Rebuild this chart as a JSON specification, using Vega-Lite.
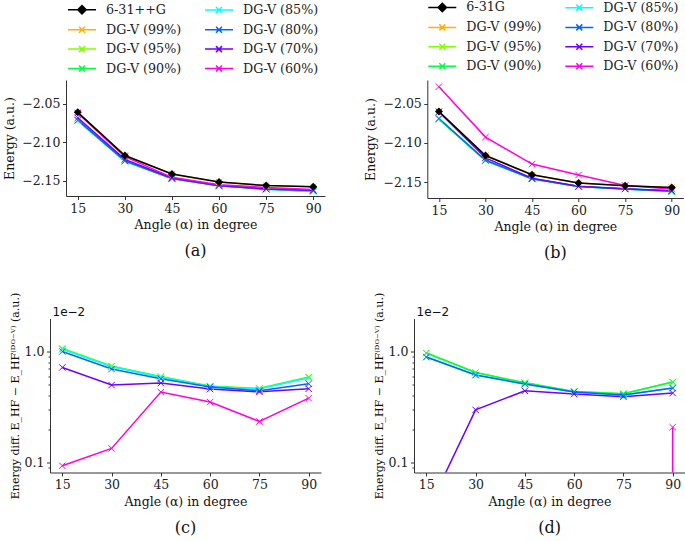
{
  "$schema": "https://vega.github.io/schema/vega-lite/v6.json",
  "padding": {"left": 3, "top": 0, "right": 0, "bottom": 0},
  "data": {"values": [
    {"p":"a","s":"DG-V (99%)","angle":15,"v":-2.061},{"p":"a","s":"DG-V (99%)","angle":30,"v":-2.117},{"p":"a","s":"DG-V (99%)","angle":45,"v":-2.141},{"p":"a","s":"DG-V (99%)","angle":60,"v":-2.1513},{"p":"a","s":"DG-V (99%)","angle":75,"v":-2.156},{"p":"a","s":"DG-V (99%)","angle":90,"v":-2.1574},
    {"p":"a","s":"DG-V (95%)","angle":15,"v":-2.0717},{"p":"a","s":"DG-V (95%)","angle":30,"v":-2.1244},{"p":"a","s":"DG-V (95%)","angle":45,"v":-2.14695},{"p":"a","s":"DG-V (95%)","angle":60,"v":-2.15618},{"p":"a","s":"DG-V (95%)","angle":75,"v":-2.16066},{"p":"a","s":"DG-V (95%)","angle":90,"v":-2.1633},
    {"p":"a","s":"DG-V (90%)","angle":15,"v":-2.0715},{"p":"a","s":"DG-V (90%)","angle":30,"v":-2.12433},{"p":"a","s":"DG-V (90%)","angle":45,"v":-2.14688},{"p":"a","s":"DG-V (90%)","angle":60,"v":-2.15614},{"p":"a","s":"DG-V (90%)","angle":75,"v":-2.16061},{"p":"a","s":"DG-V (90%)","angle":90,"v":-2.16323},
    {"p":"a","s":"DG-V (85%)","angle":15,"v":-2.0715},{"p":"a","s":"DG-V (85%)","angle":30,"v":-2.12433},{"p":"a","s":"DG-V (85%)","angle":45,"v":-2.14688},{"p":"a","s":"DG-V (85%)","angle":60,"v":-2.15614},{"p":"a","s":"DG-V (85%)","angle":75,"v":-2.16061},{"p":"a","s":"DG-V (85%)","angle":90,"v":-2.1632},
    {"p":"a","s":"DG-V (80%)","angle":15,"v":-2.071},{"p":"a","s":"DG-V (80%)","angle":30,"v":-2.12394},{"p":"a","s":"DG-V (80%)","angle":45,"v":-2.14667},{"p":"a","s":"DG-V (80%)","angle":60,"v":-2.15608},{"p":"a","s":"DG-V (80%)","angle":75,"v":-2.16043},{"p":"a","s":"DG-V (80%)","angle":90,"v":-2.16252},
    {"p":"a","s":"DG-V (70%)","angle":15,"v":-2.06818},{"p":"a","s":"DG-V (70%)","angle":30,"v":-2.12198},{"p":"a","s":"DG-V (70%)","angle":45,"v":-2.14619},{"p":"a","s":"DG-V (70%)","angle":60,"v":-2.15588},{"p":"a","s":"DG-V (70%)","angle":75,"v":-2.16033},{"p":"a","s":"DG-V (70%)","angle":90,"v":-2.16201},
    {"p":"a","s":"DG-V (60%)","angle":15,"v":-2.06193},{"p":"a","s":"DG-V (60%)","angle":30,"v":-2.11834},{"p":"a","s":"DG-V (60%)","angle":45,"v":-2.14531},{"p":"a","s":"DG-V (60%)","angle":60,"v":-2.1548},{"p":"a","s":"DG-V (60%)","angle":75,"v":-2.15834},{"p":"a","s":"DG-V (60%)","angle":90,"v":-2.1612},
    {"p":"a","s":"6-31++G","angle":15,"v":-2.061},{"p":"a","s":"6-31++G","angle":30,"v":-2.117},{"p":"a","s":"6-31++G","angle":45,"v":-2.141},{"p":"a","s":"6-31++G","angle":60,"v":-2.1513},{"p":"a","s":"6-31++G","angle":75,"v":-2.156},{"p":"a","s":"6-31++G","angle":90,"v":-2.1574},

    {"p":"b","s":"DG-V (99%)","angle":15,"v":-2.0598},{"p":"b","s":"DG-V (99%)","angle":30,"v":-2.116},{"p":"b","s":"DG-V (99%)","angle":45,"v":-2.1407},{"p":"b","s":"DG-V (99%)","angle":60,"v":-2.1513},{"p":"b","s":"DG-V (99%)","angle":75,"v":-2.1547},{"p":"b","s":"DG-V (99%)","angle":90,"v":-2.1569},
    {"p":"b","s":"DG-V (95%)","angle":15,"v":-2.06947},{"p":"b","s":"DG-V (95%)","angle":30,"v":-2.12247},{"p":"b","s":"DG-V (95%)","angle":45,"v":-2.14592},{"p":"b","s":"DG-V (95%)","angle":60,"v":-2.15566},{"p":"b","s":"DG-V (95%)","angle":75,"v":-2.15886},{"p":"b","s":"DG-V (95%)","angle":90,"v":-2.1622},
    {"p":"b","s":"DG-V (90%)","angle":15,"v":-2.06947},{"p":"b","s":"DG-V (90%)","angle":30,"v":-2.12247},{"p":"b","s":"DG-V (90%)","angle":45,"v":-2.14592},{"p":"b","s":"DG-V (90%)","angle":60,"v":-2.15566},{"p":"b","s":"DG-V (90%)","angle":75,"v":-2.15886},{"p":"b","s":"DG-V (90%)","angle":90,"v":-2.1622},
    {"p":"b","s":"DG-V (85%)","angle":15,"v":-2.0687},{"p":"b","s":"DG-V (85%)","angle":30,"v":-2.12213},{"p":"b","s":"DG-V (85%)","angle":45,"v":-2.14579},{"p":"b","s":"DG-V (85%)","angle":60,"v":-2.15561},{"p":"b","s":"DG-V (85%)","angle":75,"v":-2.15875},{"p":"b","s":"DG-V (85%)","angle":90,"v":-2.16158},
    {"p":"b","s":"DG-V (80%)","angle":15,"v":-2.0687},{"p":"b","s":"DG-V (80%)","angle":30,"v":-2.12213},{"p":"b","s":"DG-V (80%)","angle":45,"v":-2.14579},{"p":"b","s":"DG-V (80%)","angle":60,"v":-2.15561},{"p":"b","s":"DG-V (80%)","angle":75,"v":-2.15875},{"p":"b","s":"DG-V (80%)","angle":90,"v":-2.16158},
    {"p":"b","s":"DG-V (70%)","angle":15,"v":-2.06015},{"p":"b","s":"DG-V (70%)","angle":30,"v":-2.11898},{"p":"b","s":"DG-V (70%)","angle":45,"v":-2.14512},{"p":"b","s":"DG-V (70%)","angle":60,"v":-2.15543},{"p":"b","s":"DG-V (70%)","angle":75,"v":-2.15861},{"p":"b","s":"DG-V (70%)","angle":90,"v":-2.16112},
    {"p":"b","s":"DG-V (60%)","angle":15,"v":-2.0279},{"p":"b","s":"DG-V (60%)","angle":30,"v":-2.0925},{"p":"b","s":"DG-V (60%)","angle":45,"v":-2.127},{"p":"b","s":"DG-V (60%)","angle":60,"v":-2.141},{"p":"b","s":"DG-V (60%)","angle":75,"v":-2.1545},{"p":"b","s":"DG-V (60%)","angle":90,"v":-2.15898},
    {"p":"b","s":"6-31G","angle":15,"v":-2.0598},{"p":"b","s":"6-31G","angle":30,"v":-2.116},{"p":"b","s":"6-31G","angle":45,"v":-2.1407},{"p":"b","s":"6-31G","angle":60,"v":-2.1513},{"p":"b","s":"6-31G","angle":75,"v":-2.1547},{"p":"b","s":"6-31G","angle":90,"v":-2.1569},

    {"p":"c","s":"DG-V (95%)","angle":15,"v":0.0107},{"p":"c","s":"DG-V (95%)","angle":30,"v":0.0074},{"p":"c","s":"DG-V (95%)","angle":45,"v":0.00595},{"p":"c","s":"DG-V (95%)","angle":60,"v":0.00488},{"p":"c","s":"DG-V (95%)","angle":75,"v":0.00466},{"p":"c","s":"DG-V (95%)","angle":90,"v":0.0059},
    {"p":"c","s":"DG-V (90%)","angle":15,"v":0.0105},{"p":"c","s":"DG-V (90%)","angle":30,"v":0.00733},{"p":"c","s":"DG-V (90%)","angle":45,"v":0.00588},{"p":"c","s":"DG-V (90%)","angle":60,"v":0.00484},{"p":"c","s":"DG-V (90%)","angle":75,"v":0.00461},{"p":"c","s":"DG-V (90%)","angle":90,"v":0.00583},
    {"p":"c","s":"DG-V (85%)","angle":15,"v":0.0105},{"p":"c","s":"DG-V (85%)","angle":30,"v":0.00733},{"p":"c","s":"DG-V (85%)","angle":45,"v":0.00588},{"p":"c","s":"DG-V (85%)","angle":60,"v":0.00484},{"p":"c","s":"DG-V (85%)","angle":75,"v":0.00461},{"p":"c","s":"DG-V (85%)","angle":90,"v":0.0058},
    {"p":"c","s":"DG-V (80%)","angle":15,"v":0.01},{"p":"c","s":"DG-V (80%)","angle":30,"v":0.00694},{"p":"c","s":"DG-V (80%)","angle":45,"v":0.00567},{"p":"c","s":"DG-V (80%)","angle":60,"v":0.00478},{"p":"c","s":"DG-V (80%)","angle":75,"v":0.00443},{"p":"c","s":"DG-V (80%)","angle":90,"v":0.00512},
    {"p":"c","s":"DG-V (70%)","angle":15,"v":0.00718},{"p":"c","s":"DG-V (70%)","angle":30,"v":0.00498},{"p":"c","s":"DG-V (70%)","angle":45,"v":0.00519},{"p":"c","s":"DG-V (70%)","angle":60,"v":0.00458},{"p":"c","s":"DG-V (70%)","angle":75,"v":0.00433},{"p":"c","s":"DG-V (70%)","angle":90,"v":0.00461},
    {"p":"c","s":"DG-V (60%)","angle":15,"v":0.000934},{"p":"c","s":"DG-V (60%)","angle":30,"v":0.00134},{"p":"c","s":"DG-V (60%)","angle":45,"v":0.00431},{"p":"c","s":"DG-V (60%)","angle":60,"v":0.0035},{"p":"c","s":"DG-V (60%)","angle":75,"v":0.00234},{"p":"c","s":"DG-V (60%)","angle":90,"v":0.0038},

    {"p":"d","s":"DG-V (95%)","angle":15,"v":0.00967},{"p":"d","s":"DG-V (95%)","angle":30,"v":0.00647},{"p":"d","s":"DG-V (95%)","angle":45,"v":0.00522},{"p":"d","s":"DG-V (95%)","angle":60,"v":0.00436},{"p":"d","s":"DG-V (95%)","angle":75,"v":0.00416},{"p":"d","s":"DG-V (95%)","angle":90,"v":0.0053},
    {"p":"d","s":"DG-V (90%)","angle":15,"v":0.00967},{"p":"d","s":"DG-V (90%)","angle":30,"v":0.00647},{"p":"d","s":"DG-V (90%)","angle":45,"v":0.00522},{"p":"d","s":"DG-V (90%)","angle":60,"v":0.00436},{"p":"d","s":"DG-V (90%)","angle":75,"v":0.00416},{"p":"d","s":"DG-V (90%)","angle":90,"v":0.0053},
    {"p":"d","s":"DG-V (85%)","angle":15,"v":0.0089},{"p":"d","s":"DG-V (85%)","angle":30,"v":0.00613},{"p":"d","s":"DG-V (85%)","angle":45,"v":0.00509},{"p":"d","s":"DG-V (85%)","angle":60,"v":0.00431},{"p":"d","s":"DG-V (85%)","angle":75,"v":0.00405},{"p":"d","s":"DG-V (85%)","angle":90,"v":0.00468},
    {"p":"d","s":"DG-V (80%)","angle":15,"v":0.0089},{"p":"d","s":"DG-V (80%)","angle":30,"v":0.00613},{"p":"d","s":"DG-V (80%)","angle":45,"v":0.00509},{"p":"d","s":"DG-V (80%)","angle":60,"v":0.00431},{"p":"d","s":"DG-V (80%)","angle":75,"v":0.00405},{"p":"d","s":"DG-V (80%)","angle":90,"v":0.00468},
    {"p":"d","s":"DG-V (70%)","angle":15,"v":0.00035},{"p":"d","s":"DG-V (70%)","angle":30,"v":0.00298},{"p":"d","s":"DG-V (70%)","angle":45,"v":0.00442},{"p":"d","s":"DG-V (70%)","angle":60,"v":0.00413},{"p":"d","s":"DG-V (70%)","angle":75,"v":0.00391},{"p":"d","s":"DG-V (70%)","angle":90,"v":0.00422},
    {"p":"d","s":"DG-V (60%)","angle":75,"v":1e-300},{"p":"d","s":"DG-V (60%)","angle":90,"v":0.00208}
  ]},
  "resolve": {"scale": {"color": "independent"}, "legend": {"color": "independent"}},
  "bounds": "flush",
  "spacing": 238.5,
  "vconcat": [
    {
      "bounds": "flush",
      "spacing": 0,
      "resolve": {"scale": {"color": "independent"}, "legend": {"color": "independent"}},
      "hconcat": [
        {"width": 16, "height": 118, "data": {"values": []}, "mark": "point"},
        {
          "bounds": "flush",
          "spacing": 102.3,
          "resolve": {"scale": {"color": "independent"}, "legend": {"color": "independent"}},
          "hconcat": [
            {
              "width": 259, "height": 116,
              "title": {"text": "(a)", "orient": "bottom", "offset": 12},
              "transform": [{"filter": "datum.p == 'a'"}],
              "encoding": {
                "x": {"field": "angle", "type": "quantitative", "scale": {"domain": [11.25, 93.75], "nice": false, "zero": false}, "axis": {"values": [15, 30, 45, 60, 75, 90], "title": "Angle (α) in degree", "titlePadding": 4}},
                "y": {"field": "v", "type": "quantitative", "scale": {"domain": [-2.1695, -2.019], "nice": false, "zero": false}, "axis": {"values": [-2.15, -2.1, -2.05], "format": ".2f", "title": "Energy (a.u.)", "titlePadding": 5}},
                "color": {"field": "s", "type": "nominal",
                  "scale": {"domain": ["6-31++G", "DG-V (99%)", "DG-V (95%)", "DG-V (90%)", "DG-V (85%)", "DG-V (80%)", "DG-V (70%)", "DG-V (60%)"], "range": ["#000000", "#FFB000", "#80FF00", "#00FF40", "#00FFFF", "#0066FF", "#7000FF", "#FF00E0"]},
                  "legend": {"orient": "none", "legendX": 1, "legendY": -77.7, "columns": 2, "title": null, "symbolSize": 144, "symbolStrokeWidth": 1.5, "labelFont": "DejaVu Serif", "labelFontSize": 12.7, "labelColor": "#222", "labelOffset": 25, "columnPadding": 20, "rowPadding": 5.4, "padding": 0,
                    "encode": {"symbols": {"update": {
                      "shape": {"signal": "datum.value == '6-31++G' || datum.value == '6-31G' ? 'M-1,0H3.667M1.333,-0.7L2.033,0L1.333,0.7L0.633,0Z' : 'M-1,0H3.667M0.833,-0.5L1.833,0.5M0.833,0.5L1.833,-0.5'"},
                      "fill": {"signal": "datum.value == '6-31++G' || datum.value == '6-31G' ? '#000' : 'transparent'"},
                      "size": {"value": 144},
                      "strokeWidth": {"value": 1.5}}}}}}
              },
              "layer": [
                {"transform": [{"filter": "datum.s != '6-31++G'"}], "mark": {"type": "line", "strokeWidth": 1.5, "clip": true}},
                {"transform": [{"filter": "datum.s != '6-31++G'"}], "mark": {"type": "point", "shape": "M-1,-1L1,1M-1,1L1,-1", "size": 41, "filled": false, "strokeWidth": 1, "opacity": 1, "clip": true}},
                {"transform": [{"filter": "datum.s == '6-31++G'"}], "mark": {"type": "line", "strokeWidth": 1.5, "clip": true}},
                {"transform": [{"filter": "datum.s == '6-31++G'"}], "mark": {"type": "point", "shape": "diamond", "size": 64, "filled": true, "opacity": 1, "clip": true}}
              ]
            },
            {
              "width": 256, "height": 118,
              "title": {"text": "(b)", "orient": "bottom", "offset": 12},
              "transform": [{"filter": "datum.p == 'b'"}],
              "encoding": {
                "x": {"field": "angle", "type": "quantitative", "scale": {"domain": [11.25, 93.75], "nice": false, "zero": false}, "axis": {"values": [15, 30, 45, 60, 75, 90], "title": "Angle (α) in degree", "titlePadding": 4}},
                "y": {"field": "v", "type": "quantitative", "scale": {"domain": [-2.1704, -2.0194], "nice": false, "zero": false}, "axis": {"values": [-2.15, -2.1, -2.05], "format": ".2f", "title": "Energy (a.u.)", "titlePadding": 5}},
                "color": {"field": "s", "type": "nominal",
                  "scale": {"domain": ["6-31G", "DG-V (99%)", "DG-V (95%)", "DG-V (90%)", "DG-V (85%)", "DG-V (80%)", "DG-V (70%)", "DG-V (60%)"], "range": ["#000000", "#FFB000", "#80FF00", "#00FF40", "#00FFFF", "#0066FF", "#7000FF", "#FF00E0"]},
                  "legend": {"orient": "none", "legendX": 0, "legendY": -80, "columns": 2, "title": null, "symbolSize": 144, "symbolStrokeWidth": 1.5, "labelFont": "DejaVu Serif", "labelFontSize": 12.7, "labelColor": "#222", "labelOffset": 25, "columnPadding": 20, "rowPadding": 5.4, "padding": 0,
                    "encode": {"symbols": {"update": {
                      "shape": {"signal": "datum.value == '6-31++G' || datum.value == '6-31G' ? 'M-1,0H3.667M1.333,-0.7L2.033,0L1.333,0.7L0.633,0Z' : 'M-1,0H3.667M0.833,-0.5L1.833,0.5M0.833,0.5L1.833,-0.5'"},
                      "fill": {"signal": "datum.value == '6-31++G' || datum.value == '6-31G' ? '#000' : 'transparent'"},
                      "size": {"value": 144},
                      "strokeWidth": {"value": 1.5}}}}}}
              },
              "layer": [
                {"transform": [{"filter": "datum.s != '6-31G'"}], "mark": {"type": "line", "strokeWidth": 1.5, "clip": true}},
                {"transform": [{"filter": "datum.s != '6-31G'"}], "mark": {"type": "point", "shape": "M-1,-1L1,1M-1,1L1,-1", "size": 41, "filled": false, "strokeWidth": 1, "opacity": 1, "clip": true}},
                {"transform": [{"filter": "datum.s == '6-31G'"}], "mark": {"type": "line", "strokeWidth": 1.5, "clip": true}},
                {"transform": [{"filter": "datum.s == '6-31G'"}], "mark": {"type": "point", "shape": "diamond", "size": 64, "filled": true, "opacity": 1, "clip": true}}
              ]
            }
          ]
        }
      ]
    },
    {
      "bounds": "flush",
      "spacing": 93,
      "resolve": {"scale": {"color": "independent"}, "legend": {"color": "independent"}},
      "hconcat": [
        {
          "width": 271, "height": 154,
          "title": {"text": "(c)", "orient": "bottom", "offset": 12.5},
          "transform": [{"filter": "datum.p == 'c'"}],
          "encoding": {
            "x": {"field": "angle", "type": "quantitative", "scale": {"domain": [11.25, 93.75], "nice": false, "zero": false}, "axis": {"values": [15, 30, 45, 60, 75, 90], "title": "Angle (α) in degree", "titlePadding": 4}},
            "y": {"field": "v", "type": "quantitative", "scale": {"type": "log", "domain": [0.000813, 0.0198], "nice": false}, "axis": {"values": [0.0009, 0.001, 0.002, 0.003, 0.004, 0.005, 0.006, 0.007, 0.008, 0.009, 0.01], "labelExpr": "datum.value == 0.001 ? '0.1' : (datum.value == 0.01 ? '1.0' : '')", "tickSize": {"condition": {"test": "datum.value == 0.001 || datum.value == 0.01", "value": 3.5}, "value": 2}, "title": "Energy diff. E_HF − E_HF⁽ᴰᴳ⁻ⱽ⁾ (a.u.)", "titleFontSize": 11, "titlePadding": 4}},
            "color": {"field": "s", "type": "nominal", "scale": {"domain": ["DG-V (99%)", "DG-V (95%)", "DG-V (90%)", "DG-V (85%)", "DG-V (80%)", "DG-V (70%)", "DG-V (60%)"], "range": ["#FFB000", "#80FF00", "#00FF40", "#00FFFF", "#0066FF", "#7000FF", "#FF00E0"]}, "legend": null}
          },
          "layer": [
            {"mark": {"type": "line", "strokeWidth": 1.5, "clip": true}},
            {"mark": {"type": "point", "shape": "M-1,-1L1,1M-1,1L1,-1", "size": 41, "filled": false, "strokeWidth": 1, "opacity": 1, "clip": true},
             "encoding": {"x": {"field": "angle", "type": "quantitative", "scale": {"domain": [11.25, 93.75], "nice": false, "zero": false}, "axis": {"orient": "top", "title": "1e−2", "domain": false, "ticks": false, "labels": false, "titleX": 2, "titleY": -3, "titleAlign": "left", "titleBaseline": "alphabetic", "titleAngle": 0, "titleFont": "DejaVu Sans", "titleFontSize": 12}}}}
          ],
          "resolve": {"axis": {"x": "independent"}}
        },
        {
          "width": 271, "height": 154,
          "title": {"text": "(d)", "orient": "bottom", "offset": 12.5},
          "transform": [{"filter": "datum.p == 'd'"}],
          "encoding": {
            "x": {"field": "angle", "type": "quantitative", "scale": {"domain": [11.25, 93.75], "nice": false, "zero": false}, "axis": {"values": [15, 30, 45, 60, 75, 90], "title": "Angle (α) in degree", "titlePadding": 4}},
            "y": {"field": "v", "type": "quantitative", "scale": {"type": "log", "domain": [0.000813, 0.0198], "nice": false}, "axis": {"values": [0.0009, 0.001, 0.002, 0.003, 0.004, 0.005, 0.006, 0.007, 0.008, 0.009, 0.01], "labelExpr": "datum.value == 0.001 ? '0.1' : (datum.value == 0.01 ? '1.0' : '')", "tickSize": {"condition": {"test": "datum.value == 0.001 || datum.value == 0.01", "value": 3.5}, "value": 2}, "title": "Energy diff. E_HF − E_HF⁽ᴰᴳ⁻ⱽ⁾ (a.u.)", "titleFontSize": 11, "titlePadding": 4}},
            "color": {"field": "s", "type": "nominal", "scale": {"domain": ["DG-V (99%)", "DG-V (95%)", "DG-V (90%)", "DG-V (85%)", "DG-V (80%)", "DG-V (70%)", "DG-V (60%)"], "range": ["#FFB000", "#80FF00", "#00FF40", "#00FFFF", "#0066FF", "#7000FF", "#FF00E0"]}, "legend": null}
          },
          "layer": [
            {"mark": {"type": "line", "strokeWidth": 1.5, "clip": true}},
            {"mark": {"type": "point", "shape": "M-1,-1L1,1M-1,1L1,-1", "size": 41, "filled": false, "strokeWidth": 1, "opacity": 1, "clip": true},
             "encoding": {"x": {"field": "angle", "type": "quantitative", "scale": {"domain": [11.25, 93.75], "nice": false, "zero": false}, "axis": {"orient": "top", "title": "1e−2", "domain": false, "ticks": false, "labels": false, "titleX": 2, "titleY": -3, "titleAlign": "left", "titleBaseline": "alphabetic", "titleAngle": 0, "titleFont": "DejaVu Sans", "titleFontSize": 12}}}}
          ],
          "resolve": {"axis": {"x": "independent"}}
        }
      ]
    }
  ],
  "config": {
    "view": {"stroke": null},
    "font": "DejaVu Serif",
    "axis": {"grid": false, "domainColor": "#333", "tickColor": "#333", "labelColor": "#222", "titleColor": "#111", "labelFont": "DejaVu Serif", "titleFont": "DejaVu Serif", "labelFontSize": 12.5, "titleFontSize": 12.5, "titleFontWeight": "normal", "tickSize": 3.5, "labelPadding": 2.5, "domainWidth": 1, "tickWidth": 1, "labelFlush": false, "labelOverlap": false},
    "title": {"font": "DejaVu Serif", "fontSize": 16, "fontWeight": "normal", "color": "#111"}
  }
}
